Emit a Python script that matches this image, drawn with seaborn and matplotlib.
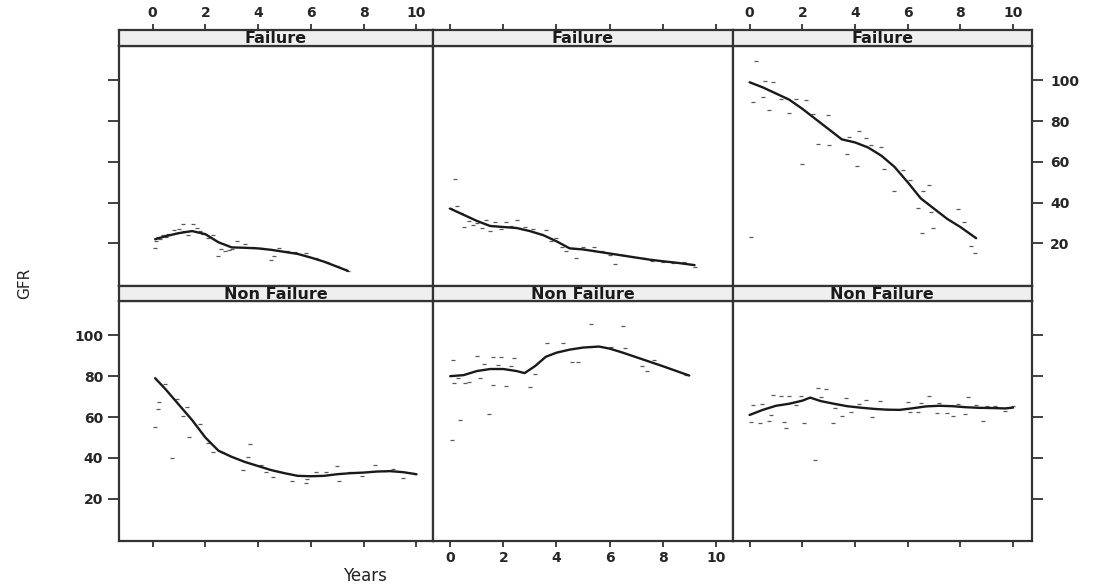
import numpy as np
import pandas as pd
import matplotlib
matplotlib.use("Agg")
import matplotlib.pyplot as plt
import seaborn as sns

# ---------------- data ----------------
panels = ["F1", "F2", "F3", "N1", "N2", "N3"]
strip_labels = ["Failure", "Failure", "Failure", "Non Failure", "Non Failure", "Non Failure"]
x_ticks = [0, 2, 4, 6, 8, 10]
y_ticks = [20, 40, 60, 80, 100]

# Failure, panel 1
f1_x = [0.1, 0.15, 0.2, 0.3, 0.4, 0.5, 0.6, 0.8, 0.9, 1.0, 1.15, 1.2, 1.35, 1.55, 1.7, 1.8, 1.9,
        2.1, 2.3, 2.5, 2.6, 2.75, 2.9, 3.0, 3.2, 3.5, 3.8, 4.1, 4.5, 4.6, 4.8, 5.1, 5.4, 5.8,
        6.2, 6.6, 7.0, 7.4]
f1_y = [17.5, 21, 23, 22, 24, 23, 24.5, 26.5, 25, 27, 29.4, 26, 24, 29.4, 27.5, 26, 24.5,
        22.5, 24, 13.7, 17, 16, 16.5, 17, 21.2, 19.5, 18, 17.5, 11.8, 14, 17.5, 16, 15.5, 15,
        13, 11, 9, 6.5]
f1_fit_x = [0.1, 0.5, 1.0, 1.5, 2.0, 2.5, 3.0, 3.5, 4.0, 4.5, 5.0, 5.5, 6.0, 6.5, 7.0, 7.4]
f1_fit_y = [22, 23.5, 25, 26, 24.5, 20.5, 18, 17.8, 17.5, 16.8, 15.8, 14.8, 13, 11, 8.5, 6.5]

# Failure, panel 2
f2_x = [0.0, 0.19, 0.25, 0.4, 0.52, 0.7, 0.85, 1.0, 1.2, 1.35, 1.5, 1.7, 1.9, 2.1, 2.3, 2.5,
        2.8, 3.1, 3.4, 3.6, 3.8, 4.0, 4.2, 4.35, 4.6, 4.74, 5.0, 5.4, 5.7, 6.0, 6.2, 6.5, 6.9,
        7.3, 7.6, 8.0, 8.4, 8.8, 9.2]
f2_y = [37.5, 51.5, 38.5, 35, 28, 31, 29, 30, 27.5, 31.5, 26, 30.5, 27, 30.5, 28.5, 31.4,
        28, 27, 24.5, 26.5, 21, 22.5, 18, 16, 17.5, 12.9, 18, 18, 16, 14.5, 9.8, 14.5, 13.5,
        13, 11.5, 11, 10.5, 11, 8.5]
f2_fit_x = [0, 0.5, 1.0, 1.5, 2.0, 2.5, 3.0, 3.5, 4.0, 4.5, 5.0, 5.5, 6.0, 6.5, 7.0, 7.5, 8.0,
            8.5, 9.2]
f2_fit_y = [37, 34, 31, 28.5, 28, 27.5, 26, 24, 21, 17.5, 17, 16, 15, 14, 13, 12, 11.2, 10.5, 9.3]

# Failure, panel 3
f3_x = [0.04, 0.13, 0.23, 0.52, 0.57, 0.74, 0.88, 1.2, 1.5, 1.77, 2.0, 2.15, 2.4, 2.58, 2.97,
        3.0, 3.7, 3.77, 4.06, 4.15, 4.43, 4.6, 4.98, 5.1, 5.5, 5.83, 6.1, 6.4, 6.53, 6.6, 6.8,
        6.9, 6.96, 7.9, 8.14, 8.4, 8.56]
f3_y = [22.9, 89.4, 109.3, 91.8, 99.7, 85.3, 99.2, 91, 83.7, 90.7, 58.8, 90.5, 83.3, 68.6,
        82.9, 68.4, 64, 72.4, 57.8, 75.2, 71.9, 68, 67.1, 56.6, 45.7, 56.1, 51.1, 37.1, 25.2,
        45.5, 48.8, 35.6, 27.3, 36.6, 30.4, 18.7, 15]
f3_fit_x = [0, 0.5, 1.0, 1.5, 2.0, 2.5, 3.0, 3.5, 4.0, 4.5, 5.0, 5.5, 6.0, 6.5, 7.0, 7.5, 8.0, 8.6]
f3_fit_y = [99, 96.5, 93.5, 90.5, 86, 81, 76, 71, 69.5, 67, 63, 57.5, 50, 42, 37, 32, 28, 22.5]

# Non Failure, panel 1
n1_x = [0.08, 0.2, 0.26, 0.47, 0.74, 0.93, 1.15, 1.3, 1.4, 1.8, 2.1, 2.3, 2.62, 3.43, 3.6,
        3.7, 4.12, 4.3, 4.56, 4.87, 5.3, 5.8, 5.87, 6.2, 6.57, 7.0, 7.07, 7.5, 7.95, 8.45, 8.8,
        9.1, 9.5, 9.95]
n1_y = [55.1, 63.8, 67.3, 76.3, 39.7, 68.7, 60.5, 64.9, 50.4, 56.4, 47.5, 42.9, 42.9, 34.2,
        40.5, 46.7, 36.6, 33.2, 30.4, 33.2, 28.5, 27.7, 29.7, 33, 33.2, 35.8, 28.8, 33, 31,
        36.3, 33.5, 34.4, 30.1, 32.3]
n1_fit_x = [0.1, 0.5, 1.0, 1.5, 2.0, 2.5, 3.0, 3.5, 4.0, 4.5, 5.0, 5.5, 6.0, 6.5, 7.0, 7.5,
            8.0, 8.5, 9.0, 9.5, 10.0]
n1_fit_y = [79, 73.5, 66, 58.5, 50, 43.5, 40.5, 38, 36, 34, 32.5, 31.2, 31, 31.2, 32, 32.5,
            32.8, 33.3, 33.5, 33, 32]

# Non Failure, panel 2
n2_x = [0.05, 0.12, 0.15, 0.28, 0.37, 0.55, 0.7, 1.0, 1.12, 1.27, 1.46, 1.6, 1.6, 1.8, 1.9,
        2.1, 2.3, 2.4, 3.0, 3.2, 3.64, 4.25, 4.6, 4.8, 5.3, 6.05, 6.5, 6.6, 7.24, 7.4, 7.67, 8.86]
n2_y = [48.8, 88.1, 76.8, 78.9, 58.4, 76.8, 77, 89.8, 79.2, 86, 61.7, 89.5, 75.5, 85.5, 89.3,
        75.2, 85.2, 89, 74.6, 80.9, 96.3, 96, 86.8, 86.8, 105.6, 94.2, 104.5, 93.9, 84.9, 82.4,
        88.1, 80.8]
n2_fit_x = [0, 0.5, 1.0, 1.5, 2.0, 2.5, 2.8, 3.2, 3.6, 4.0, 4.5, 5.0, 5.6, 6.0, 6.5, 7.0, 7.5,
            8.0, 8.5, 9.0]
n2_fit_y = [80, 80.5, 82.5, 83.5, 83.5, 82.5, 81.5, 85, 89.5, 91.5, 93, 94, 94.5, 93.5, 91.5,
            89.3, 87.1, 84.9, 82.6, 80.3]

# Non Failure, panel 3
n3_x = [0.06, 0.13, 0.38, 0.48, 0.73, 0.82, 0.89, 1.2, 1.3, 1.39, 1.5, 1.77, 1.94, 2.07, 2.5,
        2.6, 2.72, 2.9, 3.17, 3.23, 3.49, 3.65, 3.83, 4.15, 4.4, 4.66, 4.94, 5.2, 6.0, 6.08,
        6.4, 6.5, 6.8, 7.1, 7.2, 7.48, 7.73, 7.9, 8.17, 8.3, 8.59, 8.87, 9.0, 9.3, 9.7, 10.0]
n3_y = [57.8, 65.8, 57.3, 66.3, 58.1, 61, 70.8, 70.5, 57.8, 54.5, 70.5, 66, 70.5, 57.3, 39,
        74, 70, 73.5, 56.9, 64.6, 60.6, 69.2, 62.7, 66.3, 68.4, 60.1, 68, 63.8, 67.4, 62.7,
        62.7, 67, 70.4, 62.2, 66.7, 62.2, 60.6, 66.3, 61.6, 69.6, 65.8, 58.1, 65.5, 65.5, 63,
        65.5]
n3_fit_x = [0, 0.5, 1.0, 1.5, 2.0, 2.3, 2.7, 3.2, 3.7, 4.2, 4.7, 5.2, 5.7, 6.2, 6.7, 7.2, 7.7,
            8.2, 8.7, 9.2, 9.7, 10.0]
n3_fit_y = [61, 63.5, 65.5, 66.5, 68, 69.5, 67.8, 66.5, 65.3, 64.6, 64, 63.6, 63.5, 64.3, 65.2,
            65.5, 65.3, 64.8, 64.5, 64.4, 64.2, 64.6]

pts_x = [f1_x, f2_x, f3_x, n1_x, n2_x, n3_x]
pts_y = [f1_y, f2_y, f3_y, n1_y, n2_y, n3_y]
fit_x = [f1_fit_x, f2_fit_x, f3_fit_x, n1_fit_x, n2_fit_x, n3_fit_x]
fit_y = [f1_fit_y, f2_fit_y, f3_fit_y, n1_fit_y, n2_fit_y, n3_fit_y]

pts = pd.concat([pd.DataFrame({"panel": p, "Years": x, "GFR": y})
                 for p, x, y in zip(panels, pts_x, pts_y)], ignore_index=True)
fits = pd.concat([pd.DataFrame({"panel": p, "Years": x, "GFR": y})
                  for p, x, y in zip(panels, fit_x, fit_y)], ignore_index=True)

# ---------------- style ----------------
sns.set_style("white")
plt.rcParams["font.family"] = ["DejaVu Sans"]

W, H = 1096, 587
fig = plt.figure(figsize=(W / 100, H / 100), dpi=100)


def rect(x0, x1, y0, y1):
    return [x0 / W, 1 - y1 / H, (x1 - x0) / W, (y1 - y0) / H]


col_edges = [(118.5, 433.0), (433.0, 732.5), (732.5, 1032.0)]
col_xlim = [(-1.29, 10.63), (-0.65, 10.63), (-0.65, 10.72)]
row_panel = [(46.0, 285.5), (301.0, 541.0)]
row_strip = [(29.5, 46.0), (285.5, 301.0)]
ylim = (-0.7, 116.8)

spine_col = "#333333"
tick_size = 10

for r in range(2):
    for c in range(3):
        i = r * 3 + c
        x0, x1 = col_edges[c]
        ax = fig.add_axes(rect(x0, x1, *row_panel[r]))
        sax = fig.add_axes(rect(x0, x1, *row_strip[r]), sharex=ax)

        d = pts[pts.panel == panels[i]]
        f = fits[fits.panel == panels[i]]
        sns.scatterplot(data=d, x="Years", y="GFR", marker="_", s=12, color="#5a5a5a",
                        linewidth=0.9, ax=ax, legend=False)
        sns.lineplot(data=f, x="Years", y="GFR", color="#1a1a1a", linewidth=1.7,
                     estimator=None, sort=True, ax=ax, legend=False)

        ax.set_xlim(*col_xlim[c])
        ax.set_ylim(*ylim)
        ax.set_xlabel("")
        ax.set_ylabel("")
        ax.set_xticks(x_ticks)
        ax.set_yticks(y_ticks)
        for s in ax.spines.values():
            s.set_color(spine_col)
            s.set_linewidth(1.6)

        # strip
        sax.set_facecolor("#efefef")
        sax.set_yticks([])
        for s in sax.spines.values():
            s.set_color(spine_col)
            s.set_linewidth(1.6)
        sax.text(0.5, 0.45, strip_labels[i], transform=sax.transAxes, ha="center",
                 va="center", fontsize=11.5, fontweight="bold", color="#1a1a1a")

        # x ticks
        ax.tick_params(axis="x", which="both", top=False, labeltop=False)
        sax.tick_params(axis="x", which="both", bottom=False, labelbottom=False)
        if r == 0:
            ax.tick_params(axis="x", bottom=False, labelbottom=False)
            sax.tick_params(axis="x", top=True, labeltop=(c != 1), direction="out",
                            length=4.5, width=1.3, color=spine_col, pad=2,
                            labelsize=tick_size)
            for t in sax.get_xticklabels():
                t.set_fontweight("bold")
        else:
            sax.tick_params(axis="x", top=False, labeltop=False)
            ax.tick_params(axis="x", bottom=True, labelbottom=(c == 1), direction="out",
                           length=4.5, width=1.3, color=spine_col, pad=3,
                           labelsize=tick_size)
            for t in ax.get_xticklabels():
                t.set_fontweight("bold")

        # y ticks
        if c == 0:
            ax.tick_params(axis="y", left=True, labelleft=(r == 1), right=False,
                           labelright=False, direction="out", length=8, width=1.3,
                           color=spine_col, pad=3, labelsize=tick_size)
        elif c == 2:
            ax.tick_params(axis="y", left=False, labelleft=False, right=True,
                           labelright=(r == 0), direction="out", length=8, width=1.3,
                           color=spine_col, pad=5, labelsize=tick_size)
        else:
            ax.tick_params(axis="y", left=False, labelleft=False, right=False,
                           labelright=False)
        for t in ax.get_yticklabels():
            t.set_fontweight("bold")

fig.text(25 / W, 1 - 283 / H, "GFR", rotation=90, ha="center", va="center",
         fontsize=11, color="#222222")
fig.text(365 / W, 1 - 576 / H, "Years", ha="center", va="center",
         fontsize=12, color="#222222")

fig.savefig("out.png", dpi=100)
